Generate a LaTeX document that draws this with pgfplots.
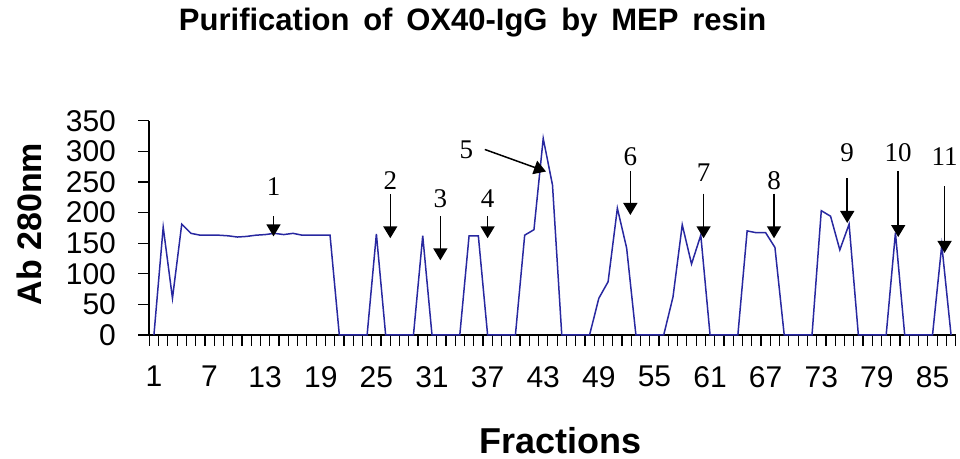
\documentclass[border=0pt]{standalone}
\usepackage{pgfplots}
\pgfplotsset{compat=1.18}
\usepackage{fontspec}
\setmainfont{Liberation Sans}
\newfontfamily\serifnum{Liberation Serif}
\usetikzlibrary{arrows.meta}

\definecolor{trace}{RGB}{40,40,160}

\begin{document}
\begin{tikzpicture}
\begin{axis}[
  at={(0,0)}, anchor=origin,
  scale only axis, width=403.2pt, height=107.15pt,
  axis lines*=left,
  xmin=0.5, xmax=87.5, ymin=0, ymax=350,
  xtick={1,7,...,85}, major x tick style={draw=none},
  minor xtick={0.5,1.5,...,87.5},
  ytick={0,50,...,350},
  tick align=outside,
  major tick length=5.5pt, minor tick length=5.5pt,
  tick style={black, line width=0.6pt},
  axis line style={black, line width=0.8pt},
  /pgf/number format/assume math mode=true,
  ticklabel style={font=\fontsize{15}{15}\selectfont},
  xticklabel style={yshift=-6.5pt},
  yticklabel style={xshift=-11pt, inner sep=0pt},
  clip=false,
  title={\bfseries Purification\, of\, OX40-IgG\, by\, MEP\, resin},
  title style={at={(axis description cs:0.401,1.40)}, anchor=center, font=\fontsize{15.5}{15.5}\selectfont},
  xlabel={\bfseries Fractions},
  ylabel={\bfseries Ab 280nm},
  every axis x label/.style={at={(axis description cs:0.5105,-0.495)}, anchor=center, font=\fontsize{18}{18}\selectfont},
  every axis y label/.style={at={(axis description cs:-0.149,0.518)}, anchor=center, rotate=90, font=\fontsize{17}{17}\selectfont},
]
\addplot[trace, line width=0.75pt, mark=none] coordinates {
(1,0)(2,176)(3,60)(4,181)(5,166)(6,163)(7,163)(8,163)(9,162)(10,160)
(11,161)(12,163)(13,164)(14,166)(15,164)(16,166)(17,163)(18,163)(19,163)(20,163)
(21,0)(22,0)(23,0)(24,0)(25,165)(26,0)(27,0)(28,0)(29,0)(30,162)
(31,0)(32,0)(33,0)(34,0)(35,162)(36,162)(37,0)(38,0)(39,0)(40,0)
(41,163)(42,172)(43,321)(44,245)(45,0)(46,0)(47,0)(48,0)(49,60)(50,87)
(51,207)(52,142)(53,0)(54,0)(55,0)(56,0)(57,62)(58,180)(59,116)(60,163)
(61,0)(62,0)(63,0)(64,0)(65,170)(66,167)(67,167)(68,143)(69,0)(70,0)
(71,0)(72,0)(73,203)(74,194)(75,139)(76,181)(77,0)(78,0)(79,0)(80,0)
(81,167)(82,0)(83,0)(84,0)(85,0)(86,147)(87,0)
};
% peak annotations
\tikzset{pk/.style={-{Triangle[width=7pt,length=6pt]}, black, line width=0.75pt},
         pn/.style={font=\serifnum\fontsize{13.5}{13.5}\selectfont, inner sep=0pt}}
\draw[pk] (axis cs:13.9,194) -- (axis cs:13.9,161);   \node[pn] at (axis cs:13.9,243) {1};
\draw[pk] (axis cs:26.5,230) -- (axis cs:26.5,158);   \node[pn] at (axis cs:26.5,252) {2};
\draw[pk] (axis cs:31.9,194) -- (axis cs:31.9,122);   \node[pn] at (axis cs:31.9,222) {3};
\draw[pk] (axis cs:37.0,194) -- (axis cs:37.0,158);   \node[pn] at (axis cs:37.0,222) {4};
\draw[pk] (axis cs:36.7,303) -- (axis cs:43.3,267);   \node[pn] at (axis cs:34.7,303) {5};
\draw[pk] (axis cs:52.4,268) -- (axis cs:52.4,196);   \node[pn] at (axis cs:52.4,291) {6};
\draw[pk] (axis cs:60.3,231) -- (axis cs:60.3,158);   \node[pn] at (axis cs:60.3,265) {7};
\draw[pk] (axis cs:67.9,231) -- (axis cs:67.9,158);   \node[pn] at (axis cs:67.9,252) {8};
\draw[pk] (axis cs:75.8,256) -- (axis cs:75.8,183);   \node[pn] at (axis cs:75.8,298) {9};
\draw[pk] (axis cs:81.3,268) -- (axis cs:81.3,160);   \node[pn] at (axis cs:81.3,298) {10};
\draw[pk] (axis cs:86.3,243) -- (axis cs:86.3,134);   \node[pn] at (axis cs:86.3,291) {11};
\end{axis}
\pgfresetboundingbox
\path[use as bounding box] (-74.65pt,-62pt) rectangle (405.35pt,167.5pt);
\end{tikzpicture}
\end{document}
